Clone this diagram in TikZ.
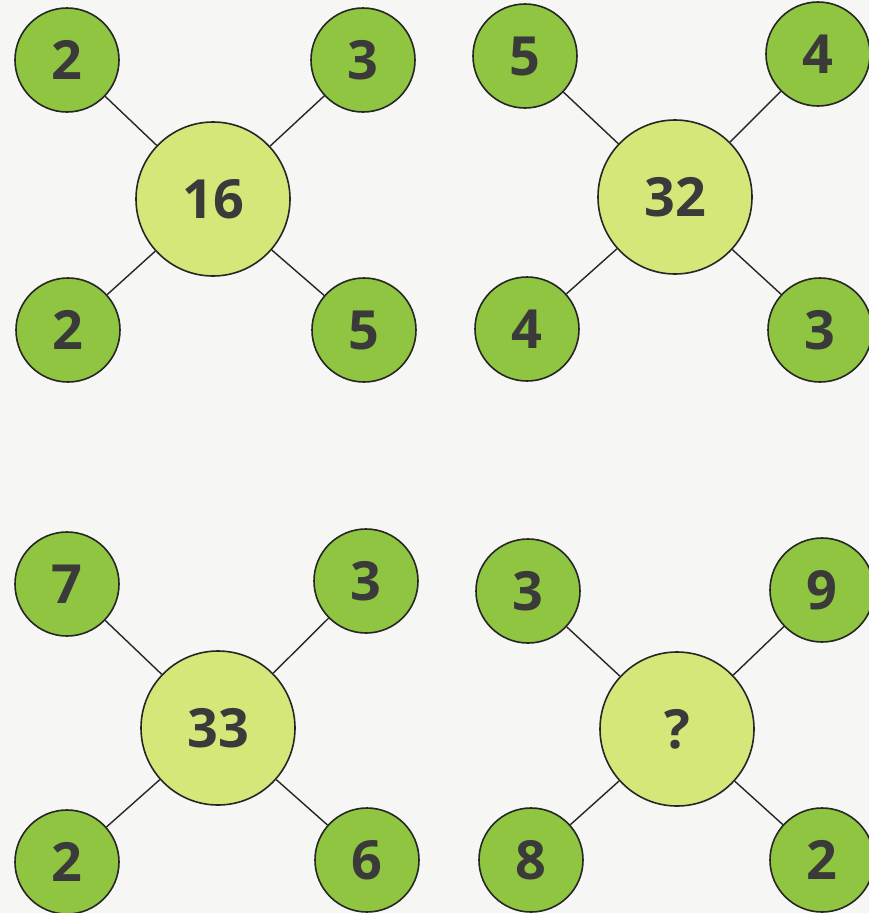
\documentclass[tikz,border=0pt]{standalone}
\usepackage{fontspec}
\setmainfont{Open Sans}
\definecolor{smallfill}{HTML}{8FC540}
\definecolor{bigfill}{HTML}{D6E77A}
\definecolor{numcol}{HTML}{3A3A3A}
\definecolor{bgcol}{HTML}{F6F6F4}
\begin{document}
\begin{tikzpicture}[x=1pt,y=-1pt,
  small/.style={circle,draw=black!85,line width=1.6pt,fill=smallfill,minimum size=104pt,inner sep=0pt,text=numcol,font=\fontsize{54}{54}\selectfont\bfseries},
  big/.style={circle,draw=black!85,line width=1.6pt,fill=bigfill,minimum size=154pt,inner sep=0pt,text=numcol,font=\fontsize{54}{54}\selectfont\bfseries},
  link/.style={draw=black!85,line width=1.4pt}]
\fill[bgcol] (0,0) rectangle (869,913);
\useasboundingbox (0,0) rectangle (869,913);
% panel 1
\node[big] (c1) at (213,199) {16};
\node[small] (a1) at (67,60) {2};
\node[small] (b1) at (363,60) {3};
\node[small] (d1) at (68,330) {2};
\node[small] (e1) at (364,330) {5};
% panel 2
\node[big] (c2) at (675,197) {32};
\node[small] (a2) at (525,56) {5};
\node[small] (b2) at (818,54) {4};
\node[small] (d2) at (527,329) {4};
\node[small] (e2) at (820,330) {3};
% panel 3
\node[big] (c3) at (218,728) {33};
\node[small] (a3) at (67,584) {7};
\node[small] (b3) at (366,581) {3};
\node[small] (d3) at (67,862) {2};
\node[small] (e3) at (367,860) {6};
% panel 4
\node[big] (c4) at (677,729) {?};
\node[small] (a4) at (528,591) {3};
\node[small] (b4) at (822,590) {9};
\node[small] (d4) at (531,860) {8};
\node[small] (e4) at (822,860) {2};
\foreach \i in {1,2,3,4}{
  \foreach \s in {a,b,d,e}{
    \draw[link] (c\i) -- (\s\i);
  }
}
\end{tikzpicture}
\end{document}
